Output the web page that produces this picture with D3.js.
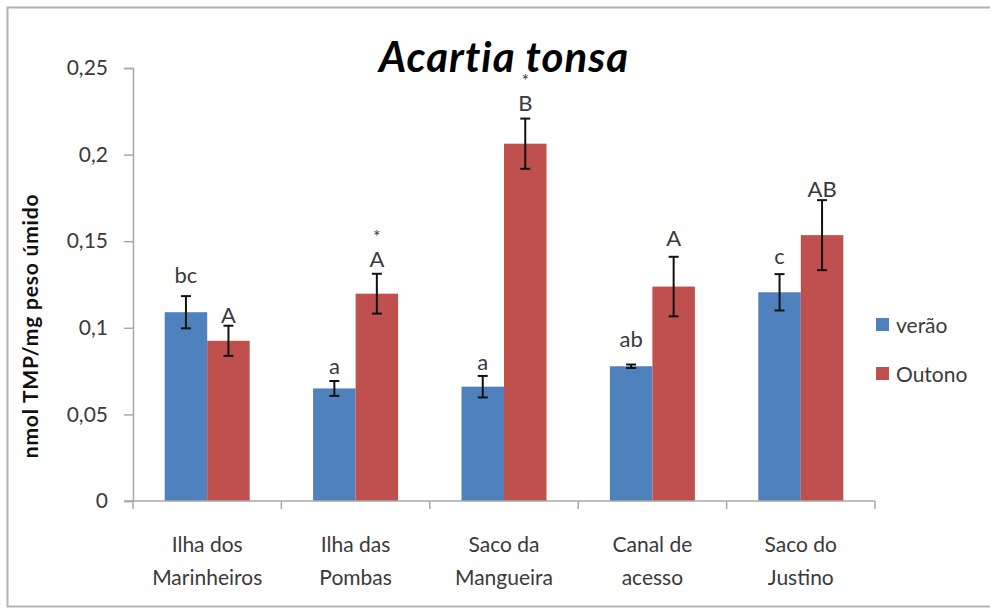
<!DOCTYPE html>
<html>
<head>
<meta charset="utf-8">
<script src="https://cdn.jsdelivr.net/npm/d3@7"></script>
<style>
  html, body { margin: 0; padding: 0; background: #fff; }
  svg { display: block; }
  text { font-family: Lato, "Open Sans", sans-serif; fill: #3a3a3a; }
</style>
</head>
<body>
<svg id="chart" width="990" height="608"></svg>
<script>
// Sampling sites (two-line labels)
const categories = [
  ["Ilha dos", "Marinheiros"],
  ["Ilha das", "Pombas"],
  ["Saco da", "Mangueira"],
  ["Canal de", "acesso"],
  ["Saco do", "Justino"]
];
const seriesNames = ["verão", "Outono"];

// Mean TMP (nmol / mg wet weight) and standard error per season
const veraoValues  = [0.109, 0.065, 0.066, 0.0778, 0.1205];
const veraoErrors  = [0.0093, 0.0043, 0.0062, 0.001, 0.0105];
const outonoValues = [0.0925, 0.1197, 0.2063, 0.1238, 0.1535];
const outonoErrors = [0.0087, 0.0115, 0.0145, 0.0172, 0.0202];

// Statistical letters above each bar; "*" marks a seasonal difference
const veraoLetters  = ["bc", "a", "a", "ab", "c"];
const outonoLetters = ["A", "A", "B", "A", "AB"];
const outonoStars   = [false, true, true, false, false];

const yTicks = [0, 0.05, 0.1, 0.15, 0.2, 0.25];
const yTickLabels = ["0", "0,05", "0,1", "0,15", "0,2", "0,25"];

const colors = ["#4F81BD", "#C0504D"];

const svg = d3.select("#chart");
const margin = { left: 133, right: 115, top: 68, bottom: 107 };
const W = 990, H = 608;

// outer frame
svg.append("rect")
  .attr("x", 7.5).attr("y", 7.5)
  .attr("width", 1000).attr("height", 599)
  .attr("fill", "none").attr("stroke", "#b4b4b4").attr("stroke-width", 2);

const x = d3.scaleBand()
  .domain(d3.range(categories.length))
  .range([margin.left, W - margin.right])
  .paddingInner(0).paddingOuter(0);

const y = d3.scaleLinear()
  .domain([0, 0.25])
  .range([H - margin.bottom, margin.top]);

const barW = 42.5;
const series = [
  { values: veraoValues, errors: veraoErrors, letters: veraoLetters },
  { values: outonoValues, errors: outonoErrors, letters: outonoLetters }
];
const barX = (i, s) => x(i) + x.bandwidth() / 2 - barW + s * barW;

// bars
series.forEach((ser, s) => {
  svg.append("g").selectAll("rect")
    .data(ser.values)
    .join("rect")
    .attr("x", (d, i) => barX(i, s))
    .attr("y", d => y(d))
    .attr("width", barW)
    .attr("height", d => y(0) - y(d))
    .attr("fill", colors[s]);
});

// error bars
series.forEach((ser, s) => {
  const g = svg.append("g").attr("stroke", "#111").attr("stroke-width", 2);
  ser.values.forEach((v, i) => {
    const cx = barX(i, s) + barW / 2;
    const e = ser.errors[i];
    g.append("line").attr("x1", cx).attr("x2", cx).attr("y1", y(v - e)).attr("y2", y(v + e));
    [v - e, v + e].forEach(t => {
      g.append("line").attr("x1", cx - 5).attr("x2", cx + 5).attr("y1", y(t)).attr("y2", y(t));
    });
  });
});

// letters sit just above the error bar
const letterGap = [
  [13.5, 6.5, 6, 18, 10],
  [3, 7, 8, 11, 3]
];
series.forEach((ser, s) => {
  ser.letters.forEach((t, i) => {
    const cx = barX(i, s) + barW / 2;
    const top = y(ser.values[i] + ser.errors[i]);
    const by = top - letterGap[s][i];
    svg.append("text")
      .attr("x", cx).attr("y", by)
      .attr("text-anchor", "middle")
      .attr("font-size", 22)
      .text(t);
    if (s === 1 && outonoStars[i]) {
      svg.append("text")
        .attr("x", cx).attr("y", by - 24)
        .attr("text-anchor", "middle")
        .attr("font-size", 18)
        .text("*");
    }
  });
});

// axes
const axisColor = "#a8a8a8";
const yAxis = svg.append("g")
  .attr("transform", `translate(${margin.left},0)`)
  .call(d3.axisLeft(y).tickValues(yTicks).tickFormat((d, i) => yTickLabels[i]).tickSize(9).tickPadding(16));
yAxis.select(".domain").attr("stroke", axisColor).attr("stroke-width", 1.5);
yAxis.selectAll(".tick line").attr("stroke", axisColor).attr("stroke-width", 1.5);
yAxis.selectAll(".tick text").attr("font-size", 21).attr("font-family", "Lato, sans-serif").attr("fill", "#3a3a3a");

const xAxis = svg.append("g")
  .attr("transform", `translate(0,${y(0)})`);
xAxis.append("line")
  .attr("x1", margin.left - 9).attr("x2", W - margin.right)
  .attr("stroke", axisColor).attr("stroke-width", 1.5);
xAxis.selectAll(".xt")
  .data(d3.range(categories.length + 1))
  .join("line")
  .attr("x1", i => i < categories.length ? x(i) : x(i - 1) + x.bandwidth())
  .attr("x2", i => i < categories.length ? x(i) : x(i - 1) + x.bandwidth())
  .attr("y1", 0).attr("y2", 8)
  .attr("stroke", axisColor).attr("stroke-width", 1.5);

categories.forEach((lines, i) => {
  const t = svg.append("text")
    .attr("x", x(i) + x.bandwidth() / 2)
    .attr("y", 552)
    .attr("text-anchor", "middle")
    .attr("font-size", 21);
  lines.forEach((ln, k) => {
    t.append("tspan").attr("x", x(i) + x.bandwidth() / 2).attr("dy", k === 0 ? 0 : 33).text(ln);
  });
});

// title
svg.append("text")
  .attr("x", 504).attr("y", 72)
  .attr("text-anchor", "middle")
  .attr("font-size", 42)
  .attr("letter-spacing", 1)
  .attr("font-style", "italic")
  .attr("font-weight", "bold")
  .style("fill", "#000")
  .text("Acartia tonsa");

// y-axis title
svg.append("text")
  .attr("transform", "translate(38,326) rotate(-90)")
  .attr("text-anchor", "middle")
  .attr("font-size", 21)
  .attr("letter-spacing", 0.8)
  .attr("font-weight", "bold")
  .style("fill", "#111")
  .text("nmol TMP/mg peso úmido");

// legend
const legend = svg.append("g");
seriesNames.forEach((name, s) => {
  const ly = 318 + s * 49;
  legend.append("rect")
    .attr("x", 876).attr("y", ly)
    .attr("width", 13).attr("height", 13)
    .attr("fill", colors[s]);
  legend.append("text")
    .attr("x", 896).attr("y", ly + 15)
    .attr("font-size", 21)
    .text(name);
});
</script>
</body>
</html>
